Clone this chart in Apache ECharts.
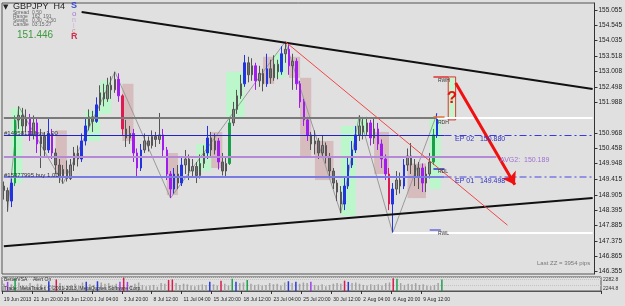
<!DOCTYPE html>
<html>
<head>
<meta charset="utf-8">
<script src="https://cdn.jsdelivr.net/npm/echarts@6/dist/echarts.min.js"></script>
<style>
  html, body { margin: 0; padding: 0; background: #e0e0e0; }
  #chart { width: 625px; height: 306px; }
</style>
</head>
<body>
<div id="chart"></div>
<script>
// GBPJPY H4 - one candle here = two H4 bars
var opens = [
  149.20, 149.05, 148.70, 149.30, 151.40, 151.55, 151.20, 151.45, 150.90, 151.30,
  150.60, 150.85, 150.40, 150.95, 150.30, 149.90, 149.50, 149.75, 149.45, 149.90,
  150.30, 150.10, 150.70, 151.20, 151.50, 151.35, 151.90, 152.30, 152.10, 152.55,
  152.40, 152.75, 152.20, 151.10, 150.80, 150.95, 150.30, 149.80, 150.40, 150.70,
  150.55, 150.85, 150.75, 150.90, 150.40, 149.60, 149.10, 149.60, 149.30, 149.90,
  150.10, 149.70, 149.85, 149.55, 149.95, 150.30, 150.80, 150.40, 150.70, 150.00,
  149.70, 149.95, 151.30, 151.75, 152.20, 152.60, 153.30, 152.90, 153.20, 152.70,
  152.95, 152.60, 153.10, 152.80, 153.25, 153.00, 153.60, 153.75, 153.20, 153.35,
  152.60, 152.00, 151.40, 150.90, 150.60, 150.70, 150.30, 150.55, 150.15, 149.70,
  149.30, 149.00, 148.60, 149.20, 149.90, 150.40, 150.90, 151.20, 151.00, 151.30,
  150.80, 151.10, 150.60, 150.10, 149.60, 148.60, 149.10, 149.40, 149.20, 149.90,
  150.20, 149.90, 149.50, 149.80, 149.30, 149.60, 150.00, 150.90
];
var closes = [
  149.05, 148.70, 149.30, 151.40, 151.55, 151.20, 151.45, 150.90, 151.30, 150.60,
  150.85, 150.40, 150.95, 150.30, 149.90, 149.50, 149.75, 149.45, 149.90, 150.30,
  150.10, 150.70, 151.20, 151.50, 151.35, 151.90, 152.30, 152.10, 152.55, 152.40,
  152.75, 152.20, 151.10, 150.80, 150.95, 150.30, 149.80, 150.40, 150.70, 150.55,
  150.85, 150.75, 150.90, 150.40, 149.60, 149.10, 149.60, 149.30, 149.90, 150.10,
  149.70, 149.85, 149.55, 149.95, 150.30, 150.80, 150.40, 150.70, 150.00, 149.70,
  149.95, 151.30, 151.75, 152.20, 152.60, 153.30, 152.90, 153.20, 152.70, 152.95,
  152.60, 153.10, 152.80, 153.25, 153.00, 153.60, 153.75, 153.20, 153.35, 152.60,
  152.00, 151.40, 150.90, 150.60, 150.70, 150.30, 150.55, 150.15, 149.70, 149.30,
  149.00, 148.60, 149.20, 149.90, 150.40, 150.90, 151.20, 151.00, 151.30, 150.80,
  151.10, 150.60, 150.10, 149.60, 148.60, 149.10, 149.40, 149.20, 149.90, 150.20,
  149.90, 149.50, 149.80, 149.30, 149.60, 150.00, 150.90, 151.45
];
var lows = [
  148.75, 148.35, 148.50, 149.20, 151.10, 150.90, 151.00, 150.70, 150.75, 150.30,
  149.80, 150.15, 150.30, 150.10, 149.60, 149.30, 149.28, 149.35, 149.40, 149.70,
  149.85, 150.00, 150.55, 151.05, 151.00, 151.30, 151.70, 151.85, 152.00, 152.10,
  152.30, 152.00, 150.90, 150.50, 150.60, 150.00, 149.50, 149.70, 150.30, 150.35,
  150.45, 150.50, 150.60, 150.20, 149.40, 148.80, 148.95, 149.10, 149.20, 149.60,
  149.40, 149.50, 149.30, 149.45, 149.80, 150.10, 150.20, 150.25, 149.75, 149.55,
  149.50, 149.90, 151.20, 151.60, 152.10, 152.50, 152.65, 152.70, 152.40, 152.50,
  152.35, 152.50, 152.60, 152.70, 152.75, 152.90, 153.30, 152.90, 152.40, 152.40,
  151.80, 151.20, 150.70, 150.40, 150.25, 150.10, 150.15, 149.95, 149.50, 149.10,
  148.70, 148.30, 148.40, 149.10, 149.80, 150.30, 150.70, 150.75, 150.90, 150.55,
  150.60, 150.40, 149.80, 149.40, 148.40, 147.64, 148.90, 148.95, 149.10, 149.70,
  149.60, 149.20, 149.10, 149.00, 149.00, 149.45, 149.90, 150.80
];
var highs = [
  149.35, 149.15, 149.45, 151.55, 151.85, 151.80, 151.75, 151.60, 151.55, 151.45,
  151.10, 151.00, 151.45, 151.10, 150.45, 150.10, 149.90, 150.05, 150.10, 150.50,
  150.55, 150.95, 151.45, 151.75, 151.70, 152.15, 152.55, 152.60, 152.80, 152.85,
  153.00, 152.95, 152.25, 151.40, 151.20, 151.10, 150.45, 150.60, 150.95, 150.85,
  151.05, 151.00, 151.63, 151.10, 150.50, 149.70, 149.80, 149.90, 150.20, 150.40,
  150.25, 150.10, 150.00, 150.25, 150.55, 151.20, 151.00, 150.95, 150.80, 150.30,
  150.15, 151.50, 152.00, 152.40, 152.90, 153.56, 153.50, 153.45, 153.30, 153.20,
  153.10, 153.60, 153.40, 153.55, 153.40, 153.85, 154.00, 153.95, 153.60, 153.45,
  152.70, 152.10, 151.50, 151.00, 151.05, 150.80, 150.90, 150.65, 150.30, 149.80,
  149.40, 149.20, 149.50, 150.20, 150.70, 151.20, 151.55, 151.50, 151.50, 151.40,
  151.45, 151.30, 150.75, 150.25, 149.80, 149.30, 149.70, 149.65, 150.10, 150.45,
  150.63, 150.10, 150.00, 149.95, 149.85, 150.30, 151.10, 151.62
];
var volumes = [
  1200, 1500, 1100, 2100, 1400, 1000, 900, 1300, 800, 1200,
  1100, 900, 1600, 1000, 1900, 1300, 800, 900, 1000, 1200,
  900, 1400, 1500, 1100, 1000, 1600, 1400, 1200, 1300, 1000,
  1200, 1500, 2200, 1500, 900, 1200, 1400, 1000, 800, 900,
  1000, 700, 1300, 1200, 1800, 1900, 1300, 1000, 1200, 1100,
  900, 800, 1000, 1100, 1000, 1500, 1100, 900, 1700, 1200,
  900, 2000, 1500, 1300, 1400, 1800, 1200, 1000, 1100, 900,
  1000, 1300, 1100, 1200, 900, 1400, 1600, 1300, 1500, 1200,
  1400, 1300, 1500, 1000, 900, 1100, 800, 1000, 1200, 1300,
  1200, 1700, 1500, 1300, 1400, 1200, 1000, 900, 1100, 1000,
  1100, 900, 1300, 1400, 2100, 2000, 1300, 1000, 1200, 1100,
  1300, 1000, 1100, 900, 800, 1000, 1300, 1900
];
var tickLabels = ["19 Jun 2013", "21 Jun 20:00", "26 Jun 12:00", "1 Jul 04:00", "3 Jul 20:00",
  "8 Jul 12:00", "11 Jul 04:00", "15 Jul 20:00", "18 Jul 12:00", "23 Jul 04:00",
  "25 Jul 20:00", "30 Jul 12:00", "2 Aug 04:00", "6 Aug 20:00", "9 Aug 12:00"];
var priceTicks = [155.055, 154.545, 154.035, 153.518, 153.008, 152.498, 151.988,
  150.968, 150.458, 149.948, 149.415, 148.905, 148.395, 147.885, 147.375, 146.865, 146.355];

// zigzag swing points
var zzIdx = [1, 4, 16, 30, 45, 76, 91, 96, 105, 117];
var zzVal = [148.35, 151.85, 149.28, 153.00, 148.80, 154.00, 148.30, 151.55, 147.64, 151.62];

// sonic R zones: start, end, low, high, direction
var zones = [
  [2, 5, 149.3, 151.8, 'up'], [14, 17, 149.6, 151.05, 'down'], [22, 26, 150.7, 151.7, 'up'],
  [26, 29, 151.6, 152.7, 'up'], [32, 35, 150.7, 152.6, 'down'], [44, 47, 148.9, 150.3, 'down'],
  [52, 56, 149.7, 150.6, 'up'], [56, 59, 149.8, 151.0, 'down'], [60, 65, 151.5, 153.0, 'up'],
  [70, 73, 152.6, 153.5, 'down'], [73, 76, 152.8, 153.6, 'up'], [77, 80, 152.8, 153.5, 'down'],
  [80, 83, 150.2, 152.8, 'down'], [84, 89, 149.4, 150.7, 'down'], [91, 95, 148.2, 151.2, 'up'],
  [95, 98, 150.9, 151.5, 'up'], [100, 104, 149.6, 151.0, 'down'], [109, 114, 148.8, 149.95, 'down'],
  [115, 118, 149.1, 151.45, 'up']
];

// levels
var lastPrice = 151.446;
var greyLevel = 151.48;
var ep02 = 150.88;
var avg2 = 150.189;
var ep01 = 149.498;
var rwh = 152.83;
var rdh = 151.50;
var rdl = 149.77;
var rwl = 147.64;
var upperTrend = [[21, 154.99], [159, 152.43]];
var lowerTrend = [[0, 147.20], [159, 148.80]];
var redTrend = [[76, 154.00], [136, 147.90]];
var arrowLine = [[122, 152.63], [138, 149.24]];
var qBox = [[120, 152.83], [122, 151.40]];

var totalSlots = 160;
var lastIdx = closes.length - 1;

var cats = [];
for (var i = 0; i < totalSlots; i++) cats.push(String(i));

var candleData = [];
for (var i = 0; i < closes.length; i++) {
  var o = opens[i], c = closes[i];
  var body = Math.abs(c - o);
  var item = { value: [o, c, lows[i], highs[i]] };
  var col = null;
  if (body >= 0.9) col = c > o ? '#18a048' : '#e01a50';
  else if (body >= 0.5) col = c > o ? '#2233e0' : '#a21cf0';
  if (col) item.itemStyle = { color: col, color0: col, borderColor: col, borderColor0: col };
  candleData.push(item);
}

var volData = [];
for (var i = 0; i < volumes.length; i++) {
  var vc = '#a3a3a3';
  if (volumes[i] >= 1700) vc = closes[i] > opens[i] ? '#20a050' : '#d81c4c';
  else if (volumes[i] >= 1450) vc = closes[i] > opens[i] ? '#2a3ad8' : '#a040e8';
  volData.push({ value: volumes[i], itemStyle: { color: vc } });
}

var zzData = [];
for (var i = 0; i < totalSlots; i++) zzData.push(null);
for (var k = 0; k < zzIdx.length; k++) zzData[zzIdx[k]] = zzVal[k];

var areaData = zones.map(function (z) {
  return [
    { coord: [z[0], z[3]], itemStyle: { color: z[4] === 'up' ? 'rgba(175,255,195,0.75)' : 'rgba(196,120,120,0.35)' } },
    { coord: [z[1], z[2]] }
  ];
});
areaData.push([
  { coord: qBox[0], itemStyle: { color: '#c4f5cc', borderColor: '#e03030', borderWidth: 1 },
    label: { show: true, position: 'inside', formatter: '?', color: '#e81010', fontSize: 17, fontWeight: 'bold' } },
  { coord: qBox[1] }
]);

function seg(a, b, p, style) {
  return [{ coord: [a, p], lineStyle: style }, { coord: [b, p] }];
}
function line2(pts, style) {
  return [{ coord: pts[0], lineStyle: style }, { coord: pts[1] }];
}
var dashDot = [7, 3, 2, 3];

var markLines = [
  seg(0, lastIdx, greyLevel, { color: '#7a7a7a', width: 2, type: 'solid' }),
  seg(lastIdx, totalSlots - 1, greyLevel, { color: '#ffffff', width: 2, type: 'solid' }),
  seg(0, 119, ep02, { color: '#2323c8', width: 1.2, type: 'solid' }),
  seg(119, totalSlots - 1, ep02, { color: '#3a3ae0', width: 1.2, type: dashDot }),
  seg(0, 133, avg2, { color: '#b48ad6', width: 2, type: 'solid' }),
  seg(0, 119, ep01, { color: '#7a7ae2', width: 2, type: 'solid' }),
  seg(119, totalSlots - 1, ep01, { color: '#7a7ae2', width: 1.5, type: dashDot }),
  seg(105, totalSlots - 1, rwl, { color: '#ffffff', width: 2, type: 'solid' }),
  seg(116, 120, rwh, { color: '#e03030', width: 1.5, type: 'solid' }),
  seg(116, 119, rdh, { color: '#e07030', width: 1.5, type: 'solid' }),
  seg(116, 119, rdl, { color: '#3030d0', width: 1.5, type: 'solid' }),
  seg(115, 118, rwl + 0.1, { color: '#6a6ae0', width: 1.5, type: 'solid' }),
  line2(upperTrend, { color: '#111', width: 2, type: 'solid' }),
  line2(lowerTrend, { color: '#111', width: 2, type: 'solid' }),
  line2(redTrend, { color: '#f04848', width: 1, type: 'solid' }),
  [{ coord: arrowLine[0], symbol: 'none', lineStyle: { color: '#f01010', width: 3, type: 'solid' } },
   { coord: arrowLine[1], symbol: 'arrow', symbolSize: 12 }]
];

var small = '6px "Liberation Sans"';
function txt(x, y, s, fill, font) {
  return { type: 'text', x: x, y: y, z: 100, style: { text: s, fill: fill, font: font || small, verticalAlign: 'middle' } };
}
function showTick(idx) {
  return idx % 8 === 0 && idx <= lastIdx;
}

var myEcharts = echarts.init(document.getElementById('chart'), null, { renderer: 'canvas' });
var option = {
  backgroundColor: '#e0e0e0',
  animation: false,
  grid: [
    { left: 2, right: 24, top: 3, height: 271, show: true, borderColor: '#555', borderWidth: 1, backgroundColor: '#e0e0e0' },
    { left: 2, right: 24, top: 277, height: 14, show: true, borderColor: '#555', borderWidth: 1, backgroundColor: '#e0e0e0' }
  ],
  xAxis: [
    { type: 'category', gridIndex: 0, data: cats, boundaryGap: true,
      axisLine: { show: false }, axisTick: { show: false }, axisLabel: { show: false }, splitLine: { show: false } },
    { type: 'category', gridIndex: 1, data: cats, boundaryGap: true,
      axisLine: { show: true, lineStyle: { color: '#555' } },
      axisTick: { show: true, length: 3, lineStyle: { color: '#333' }, interval: showTick },
      axisLabel: {
        show: true, fontSize: 5, color: '#222', align: 'left', margin: 6, fontFamily: 'Liberation Sans',
        showMinLabel: true, hideOverlap: false,
        interval: showTick,
        formatter: function (v) { return tickLabels[Number(v) / 8] || ''; }
      } }
  ],
  yAxis: [
    { type: 'value', gridIndex: 0, position: 'right', min: 146.275, max: 155.288, scale: true,
      splitLine: { show: false },
      axisLine: { show: true, lineStyle: { color: '#333' } },
      axisTick: { show: true, length: 3, inside: false, customValues: priceTicks, lineStyle: { color: '#333' } },
      axisLabel: { show: true, customValues: priceTicks, fontSize: 6.5, color: '#222', margin: 4, fontFamily: 'Liberation Sans',
        formatter: function (v) { return v.toFixed(3); } } },
    { type: 'value', gridIndex: 1, position: 'right', min: 0, max: 2300,
      splitLine: { show: true, lineStyle: { color: '#c4c4c4', type: 'dotted' } }, splitNumber: 2,
      axisLine: { show: false }, axisTick: { show: false }, axisLabel: { show: false } }
  ],
  series: [
    {
      name: 'zones', type: 'line', data: [], xAxisIndex: 0, yAxisIndex: 0, z: 1,
      markArea: { silent: true, data: areaData }
    },
    {
      name: 'GBPJPY', type: 'candlestick', xAxisIndex: 0, yAxisIndex: 0, z: 3,
      barWidth: 2,
      data: candleData,
      itemStyle: { color: '#8a8a8a', color0: '#6e6e6e', borderColor: '#555', borderColor0: '#555', borderWidth: 1 },
      markLine: {
        silent: true, symbol: 'none', animation: false,
        label: { show: false },
        data: markLines.concat([
          { yAxis: lastPrice, lineStyle: { opacity: 0 },
            label: { show: true, position: 'end', formatter: '151.446', color: '#fff', backgroundColor: '#000',
              fontSize: 6.5, padding: [1, 2], distance: 1, fontFamily: 'Liberation Sans' } }
        ])
      }
    },
    {
      name: 'zigzag', type: 'line', xAxisIndex: 0, yAxisIndex: 0, z: 2,
      data: zzData, connectNulls: true, symbol: 'none',
      lineStyle: { color: '#9a9a9a', width: 1 }
    },
    {
      name: 'volume', type: 'bar', xAxisIndex: 1, yAxisIndex: 1,
      data: volData, barWidth: 1.5
    }
  ],
  graphic: [
    txt(3, 7, '\u25BC', '#222', '7px "DejaVu Sans"'),
    txt(13, 7, 'GBPJPY  H4', '#222', '9px "Liberation Sans"'),
    txt(13, 13, 'Spread', '#666', '5px "Liberation Sans"'),
    txt(32, 13, '0.50', '#666', '5px "Liberation Sans"'),
    txt(13, 17, 'Range', '#666', '5px "Liberation Sans"'),
    txt(32, 17, '162  191', '#666', '5px "Liberation Sans"'),
    txt(13, 21, 'Swaps', '#666', '5px "Liberation Sans"'),
    txt(32, 21, '0.30  -2.30', '#666', '5px "Liberation Sans"'),
    txt(13, 25, 'Candle', '#666', '5px "Liberation Sans"'),
    txt(32, 25, '03:15:27', '#666', '5px "Liberation Sans"'),
    txt(17, 35, '151.446', '#3d9a3d', '10px "Liberation Sans"'),
    txt(71, 6, 'S', '#3a4ad0', 'bold 9px "Liberation Sans"'),
    txt(72, 14, 'o', '#a07ad0', '8px "Liberation Sans"'),
    txt(72, 20, 'n', '#c8a8e0', '7px "Liberation Sans"'),
    txt(73, 26, 'i', '#d0b0d8', '7px "Liberation Sans"'),
    txt(72, 31, 'c', '#d08898', '7px "Liberation Sans"'),
    txt(71, 37, 'R', '#d03050', 'bold 9px "Liberation Sans"'),
    txt(4, 133, '#14958111 buy 1.00', '#333'),
    txt(4, 175, '#15377995 buy 1.00', '#333'),
    txt(455, 139, 'EP 02   150.880', '#3030c0', '7px "Liberation Sans"'),
    txt(500, 160, 'AVG2:  150.189', '#a070d0', '7px "Liberation Sans"'),
    txt(455, 181, 'EP 01   149.498', '#3030c0', '7px "Liberation Sans"'),
    txt(438, 81, 'RWH', '#333', '5px "Liberation Sans"'),
    txt(438, 123, 'RDH', '#333', '5px "Liberation Sans"'),
    txt(438, 172, 'RDL', '#333', '5px "Liberation Sans"'),
    txt(438, 234, 'RWL', '#333', '5px "Liberation Sans"'),
    txt(537, 263, 'Last ZZ = 3954 pips', '#777', '6px "Liberation Sans"'),
    txt(4, 280, 'BetterVSA    Alert On', '#333', '5px "Liberation Sans"'),
    txt(4, 289, 'Trade: MetaTrader, \u00A9 2001-2013, MetaQuotes Software Corp.', '#333', '5px "Liberation Sans"'),
    txt(603, 280, '2282.8', '#333', '5px "Liberation Sans"'),
    txt(603, 289, '2244.8', '#333', '5px "Liberation Sans"')
  ]
};
myEcharts.setOption(option);
window.addEventListener('resize', function () {
  myEcharts.resize();
});
</script>
</body>
</html>
